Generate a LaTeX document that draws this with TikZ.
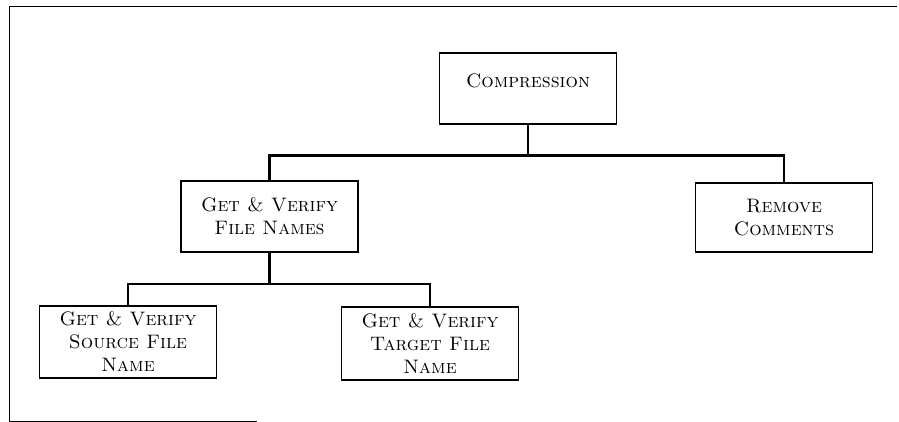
\documentclass[tikz,border=0pt]{standalone}
\usepackage{tikz}
\usetikzlibrary{positioning, calc}

\begin{document}
\begin{tikzpicture}[x=1pt, y=-1pt,
    font=\fontsize{19.5}{23}\selectfont,
    box/.style={draw, line width=1.2pt, minimum width=177pt, minimum height=71pt, inner sep=0pt, align=center},
    conn/.style={line width=2.2pt}
]
    \useasboundingbox (0,0) rectangle (899,422);
    % frame
    \draw[line width=1pt] (257,421) -- (9,421) -- (9,7) -- (897,7);
    \node[box, text depth=15pt] (comp) at (528,88.5) {\textsc{Compression}};
    \node[box] (names) at (269.5,216.5) {\textsc{Get \& Verify}\\\textsc{File Names}};
    \node[box, minimum height=69pt] (remove) at (784,217.5) {\textsc{Remove}\\\textsc{Comments}};
    \node[box, minimum height=72pt] (source) at (128,342) {\textsc{Get \& Verify}\\\textsc{Source File}\\\textsc{Name}};
    \node[box, minimum height=73pt] (target) at (430,343.5) {\textsc{Get \& Verify}\\\textsc{Target File}\\\textsc{Name}};
    \draw[conn] (comp.south) -- ++(0,31) -| (names.north);
    \draw[conn] (comp.south) ++(0,31) -| (remove.north);
    \draw[conn] (names.south) -- ++(0,31) -| (source.north);
    \draw[conn] (names.south) ++(0,31) -| (target.north);
\end{tikzpicture}
\end{document}
